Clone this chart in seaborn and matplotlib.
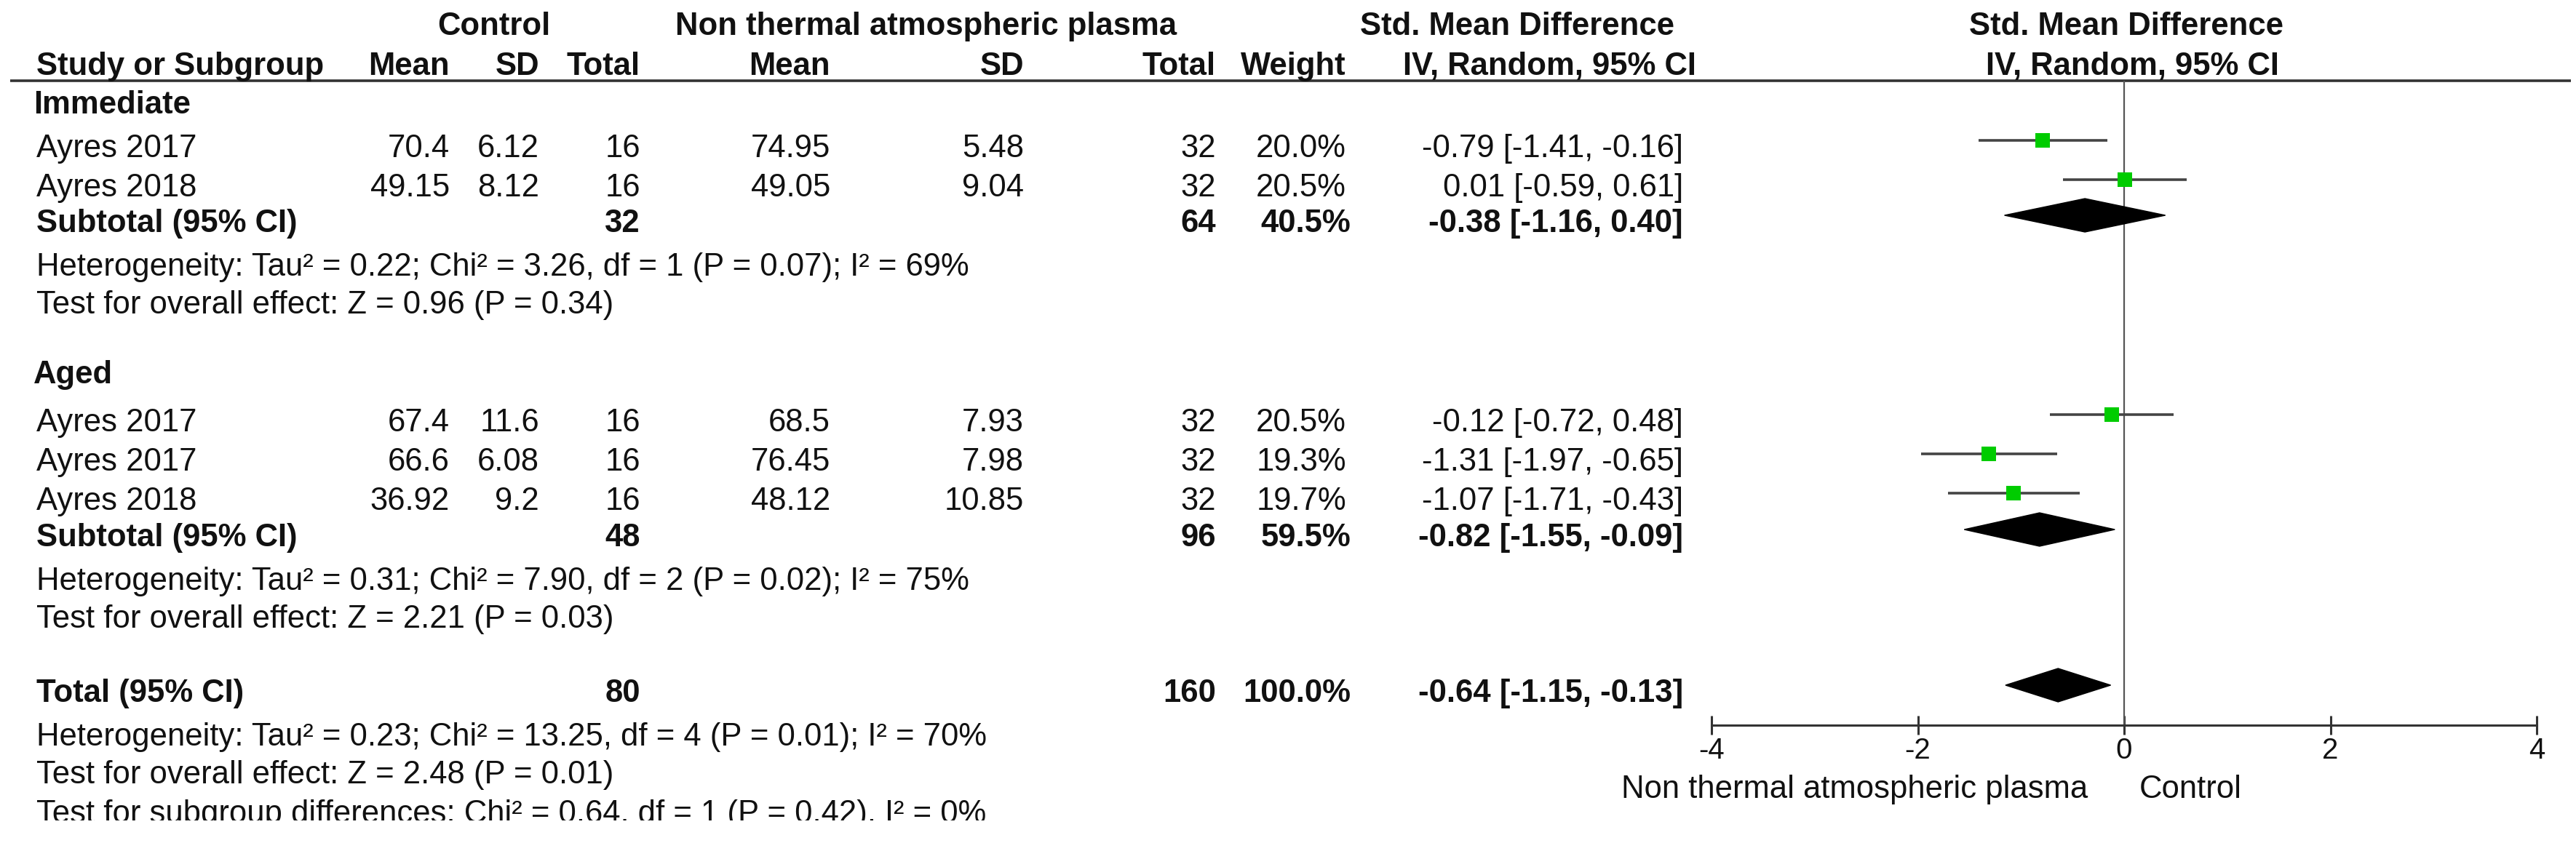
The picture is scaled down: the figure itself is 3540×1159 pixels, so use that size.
import numpy as np
import pandas as pd
import seaborn as sns
import matplotlib.pyplot as plt
from matplotlib.patches import Polygon

# Data
grupos = ['Immediate', 'Aged']
estudos = ['Ayres 2017', 'Ayres 2018', 'Ayres 2017', 'Ayres 2017', 'Ayres 2018']
grupo_estudo = ['Immediate', 'Immediate', 'Aged', 'Aged', 'Aged']
ctrl_mean = [70.4, 49.15, 67.4, 66.6, 36.92]
ctrl_sd = [6.12, 8.12, 11.6, 6.08, 9.2]
ctrl_n = [16, 16, 16, 16, 16]
ntap_mean = [74.95, 49.05, 68.5, 76.45, 48.12]
ntap_sd = [5.48, 9.04, 7.93, 7.98, 10.85]
ntap_n = [32, 32, 32, 32, 32]
peso = [20.0, 20.5, 20.5, 19.3, 19.7]
smd = [-0.79, 0.01, -0.12, -1.31, -1.07]
smd_lo = [-1.41, -0.59, -0.72, -1.97, -1.71]
smd_hi = [-0.16, 0.61, 0.48, -0.65, -0.43]

sub_ctrl_n = [32, 48]
sub_ntap_n = [64, 96]
sub_peso = [40.5, 59.5]
sub_smd = [-0.38, -0.82]
sub_lo = [-1.16, -1.55]
sub_hi = [0.40, -0.09]
sub_het = ['Heterogeneity: Tau² = 0.22; Chi² = 3.26, df = 1 (P = 0.07); I² = 69%',
           'Heterogeneity: Tau² = 0.31; Chi² = 7.90, df = 2 (P = 0.02); I² = 75%']
sub_test = ['Test for overall effect: Z = 0.96 (P = 0.34)',
            'Test for overall effect: Z = 2.21 (P = 0.03)']

tot_ctrl_n = 80
tot_ntap_n = 160
tot_peso = 100.0
tot_smd, tot_lo, tot_hi = -0.64, -1.15, -0.13
tot_het = 'Heterogeneity: Tau² = 0.23; Chi² = 13.25, df = 4 (P = 0.01); I² = 70%'
tot_test = 'Test for overall effect: Z = 2.48 (P = 0.01)'
sub_diff = 'Test for subgroup differences: Chi² = 0.64, df = 1 (P = 0.42), I² = 0%'

eixo_ticks = [-4, -2, 0, 2, 4]
rotulo_esq = 'Non thermal atmospheric plasma'
rotulo_dir = 'Control'

df = pd.DataFrame({'estudo': estudos, 'grupo': grupo_estudo,
                   'smd': smd, 'lo': smd_lo, 'hi': smd_hi, 'peso': peso})

# layout (pixel rows)
W, H = 3541, 1159
y_rows = [201, 255, 578, 632, 686]
y_group = [141, 512]
y_sub = [304, 736]
y_het = [364, 796]
y_test = [416, 848]
y_total = 950
y_tot_het, y_tot_test, y_diff = 1010, 1062, 1116
y_axis = 997
y_line = 111
off = -8
df['y'] = [y + off for y in y_rows]

sns.set_theme(style='white')
plt.rcParams['font.family'] = ['Liberation Sans', 'DejaVu Sans']
FS = 31.4
TXT = '#111111'

fig = plt.figure(figsize=(W / 100, H / 100), dpi=100)
fig.patch.set_facecolor('white')

# table axes in pixel coordinates, clipped where the original image was cut
clip_y = 1128
tab = fig.add_axes([0, (H - clip_y) / H, 1, clip_y / H])
tab.set_xlim(0, W)
tab.set_ylim(clip_y, 0)
tab.axis('off')


def put(x, y, s, ha='left', bold=False, size=FS):
    tab.text(x, y + 15, s, ha=ha, va='baseline', fontsize=size, color=TXT,
             fontweight='bold' if bold else 'normal', clip_on=True)


# headers
put(679, 33, 'Control', ha='center', bold=True)
put(1273, 33, 'Non thermal atmospheric plasma', ha='center', bold=True)
put(2085, 33, 'Std. Mean Difference', ha='center', bold=True)
put(2922, 33, 'Std. Mean Difference', ha='center', bold=True)
put(50, 88, 'Study or Subgroup', bold=True)
for x, s in [(618, 'Mean'), (741, 'SD'), (880, 'Total'), (1141, 'Mean'),
             (1407, 'SD'), (1671, 'Total'), (1850, 'Weight'), (2331, 'IV, Random, 95% CI')]:
    put(x, 88, s, ha='right', bold=True)
put(2930, 88, 'IV, Random, 95% CI', ha='center', bold=True)
tab.plot([14, 3533], [y_line, y_line], color='#333333', lw=2.6, solid_capstyle='butt')

cols = [618, 741, 880, 1141, 1407, 1671, 1850, 2313]

# studies
for i in range(len(estudos)):
    y = y_rows[i]
    put(50, y, estudos[i])
    vals = [f'{ctrl_mean[i]:g}', f'{ctrl_sd[i]:g}', f'{ctrl_n[i]}', f'{ntap_mean[i]:g}',
            f'{ntap_sd[i]:g}', f'{ntap_n[i]}', f'{peso[i]:.1f}%',
            f'{smd[i]:.2f} [{smd_lo[i]:.2f}, {smd_hi[i]:.2f}]']
    for x, s in zip(cols, vals):
        put(x, y, s, ha='right')

# subgroups
for g in range(len(grupos)):
    put(46, y_group[g], grupos[g], bold=True)
    put(50, y_sub[g], 'Subtotal (95% CI)', bold=True)
    put(880, y_sub[g], f'{sub_ctrl_n[g]}', ha='right', bold=True)
    put(1671, y_sub[g], f'{sub_ntap_n[g]}', ha='right', bold=True)
    put(1856, y_sub[g], f'{sub_peso[g]:.1f}%', ha='right', bold=True)
    put(2313, y_sub[g], f'{sub_smd[g]:.2f} [{sub_lo[g]:.2f}, {sub_hi[g]:.2f}]', ha='right', bold=True)
    put(50, y_het[g], sub_het[g])
    put(50, y_test[g], sub_test[g])

# overall
put(50, y_total, 'Total (95% CI)', bold=True)
put(880, y_total, f'{tot_ctrl_n}', ha='right', bold=True)
put(1671, y_total, f'{tot_ntap_n}', ha='right', bold=True)
put(1856, y_total, f'{tot_peso:.1f}%', ha='right', bold=True)
put(2313, y_total, f'{tot_smd:.2f} [{tot_lo:.2f}, {tot_hi:.2f}]', ha='right', bold=True)
put(50, y_tot_het, tot_het)
put(50, y_tot_test, tot_test)
put(50, y_diff, sub_diff)

put(2869, 1082, rotulo_esq, ha='right')
put(2940, 1082, rotulo_dir)

# forest panel
x0, x1 = 2352, 3486
ax = fig.add_axes([x0 / W, (H - y_axis) / H, (x1 - x0) / W, (y_axis - y_line) / H])
ax.set_facecolor('none')
ax.set_xlim(-4, 4)
ax.set_ylim(y_axis, y_line)
for s in ['top', 'left', 'right']:
    ax.spines[s].set_visible(False)
ax.spines['bottom'].set_color('#333333')
ax.spines['bottom'].set_linewidth(2.2)
ax.set_yticks([])
ax.set_xticks(eixo_ticks)
ax.set_xticklabels([f'{t}' for t in eixo_ticks])
ax.tick_params(axis='x', bottom=True, direction='inout', length=19, width=2.2,
               color='#333333', labelsize=29, pad=2, labelcolor=TXT)
ax.axvline(0, color='#555555', lw=1.6, zorder=1)

ax.hlines(df['y'], df['lo'], df['hi'], color='#444444', lw=2.6, zorder=2)
sns.scatterplot(data=df, x='smd', y='y', marker='s', s=210, color='#00cc00',
                edgecolor='none', ax=ax, zorder=3, legend=False)

dh = 23
for m, lo, hi, y in zip(sub_smd + [tot_smd], sub_lo + [tot_lo], sub_hi + [tot_hi],
                        [y + off for y in y_sub] + [y_total + off]):
    ax.add_patch(Polygon([(lo, y), (m, y - dh), (hi, y), (m, y + dh)],
                         closed=True, color='black', zorder=3))
ax.set_xlabel('')
ax.set_ylabel('')

fig.savefig('out.png', dpi=100, facecolor='white')
